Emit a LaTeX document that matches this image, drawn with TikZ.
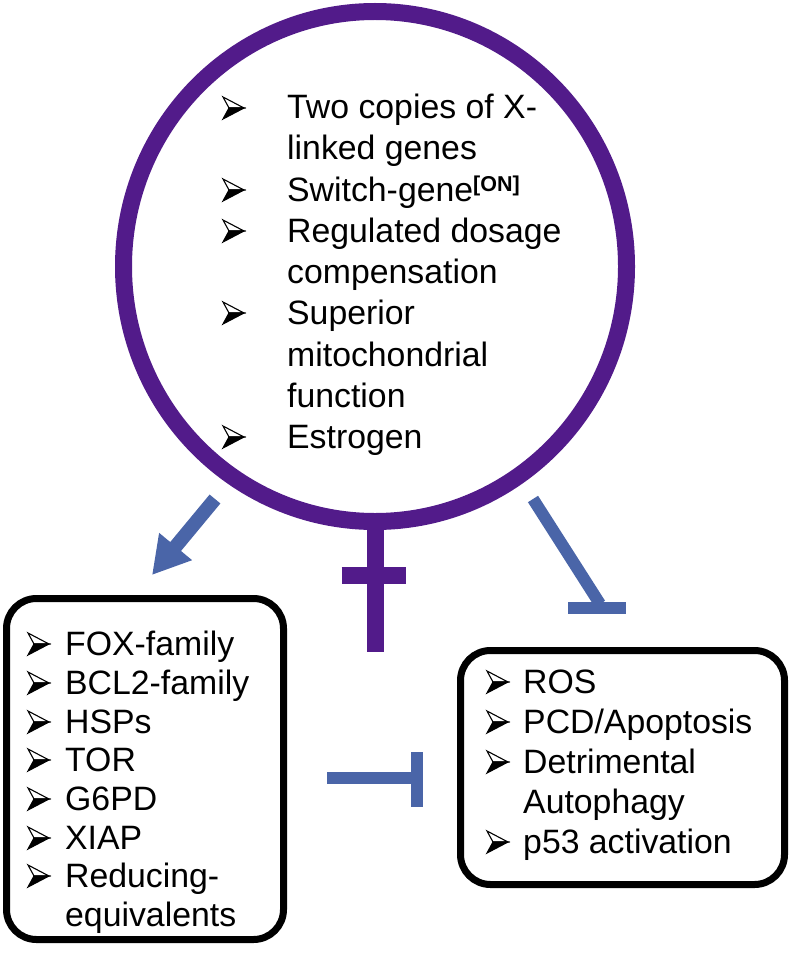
\documentclass[tikz,border=0pt]{standalone}
\usepackage{fontspec}
\setmainfont{Liberation Sans}
\usetikzlibrary{arrows.meta}
\definecolor{ringpurple}{RGB}{82,27,138}
\definecolor{arrowblue}{RGB}{74,101,168}
\tikzset{
  txt/.style={anchor=base west, inner sep=0pt, font=\fontsize{33.8}{40}\selectfont},
  box/.style={draw=black, line width=7pt, rounded corners=30pt, inner sep=0pt},
  blueline/.style={draw=arrowblue, line width=13pt},
  bulletglyph/.pic={
    \filldraw[fill=white, draw=black, line width=1.1pt, line join=miter] (0,-22) -- (21,-11) -- (6,-11) -- cycle;
    \filldraw[fill=black, draw=black, line width=1.1pt, line join=miter] (0,0) -- (21,-11) -- (6,-11) -- cycle;
  }
}
\begin{document}
\begin{tikzpicture}[x=1pt, y=-1pt]
\useasboundingbox (0,0) rectangle (792,960);

% female symbol
\draw[ringpurple, line width=17pt] (375,266.5) ellipse [x radius=251.5, y radius=255];
\coordinate (stemtop) at (375,527);
\coordinate (stembot) at (375,652);
\draw[ringpurple, line width=17pt] (stemtop) -- (stembot);
\coordinate (barl) at (341.7,575.5);
\coordinate (barr) at (405.7,575.5);
\draw[ringpurple, line width=17pt] (barl) -- (barr);

% circle text
\node[txt] (c1) at (287,119) {Two copies of X-};
\node[txt] (c2) at (287,160) {linked genes};
\node[txt] (c3) at (287,201) {Switch-gene\raisebox{10pt}{\fontsize{21.5}{22}\selectfont\bfseries [ON]}};
\node[txt] (c4) at (287,242) {Regulated dosage};
\node[txt] (c5) at (287,283) {compensation};
\node[txt] (c6) at (287,324) {Superior};
\node[txt] (c7) at (287,366) {mitochondrial};
\node[txt] (c8) at (287,407) {function};
\node[txt] (c9) at (287,448) {Estrogen};
\foreach \y in {119,201,242,324,448} \pic at (223,\y) {bulletglyph};

% left box
\node[box, minimum width=277pt, minimum height=341pt] (L) at (145,769) {};
\node[txt] (l1) at (65,655) {FOX-family};
\node[txt] (l2) at (65,694) {BCL2-family};
\node[txt] (l3) at (65,733) {HSPs};
\node[txt] (l4) at (65,771) {TOR};
\node[txt] (l5) at (65,810) {G6PD};
\node[txt] (l6) at (65,849) {XIAP};
\node[txt] (l7) at (65,887) {Reducing-};
\node[txt] (l8) at (65,926) {equivalents};
\foreach \y in {655,694,733,771,810,849,887} \pic at (28,\y) {bulletglyph};

% right box
\node[box, minimum width=324pt, minimum height=234pt] (R) at (622.5,767.5) {};
\node[txt] (r1) at (523,693) {ROS};
\node[txt] (r2) at (523,733) {PCD/Apoptosis};
\node[txt] (r3) at (523,773) {Detrimental};
\node[txt] (r4) at (523,813) {Autophagy};
\node[txt] (r5) at (523,853) {p53 activation};
\foreach \y in {693,733,773,853} \pic at (487,\y) {bulletglyph};

% activation arrow (left)
\coordinate (a1s) at (215,499);
\coordinate (a1e) at (152,575);
\draw[draw=arrowblue, line width=14pt, -{Triangle[length=37pt, width=40pt]}, arrowblue] (a1s) -- (a1e);

% inhibition (right, diagonal)
\coordinate (i1s) at (533,499);
\coordinate (i1e) at (600,604);
\coordinate (i1bl) at (568,607.5);
\coordinate (i1br) at (626,607.5);
\draw[blueline, line width=12pt] (i1s) -- (i1e);
\draw[blueline, line width=12pt] (i1bl) -- (i1br);

% inhibition (horizontal)
\coordinate (i2s) at (327,778);
\coordinate (i2e) at (417,778);
\coordinate (i2bt) at (417,752);
\coordinate (i2bb) at (417,807);
\draw[blueline, line width=12pt] (i2s) -- (i2e);
\draw[blueline, line width=12pt] (i2bt) -- (i2bb);
\end{tikzpicture}
\end{document}
